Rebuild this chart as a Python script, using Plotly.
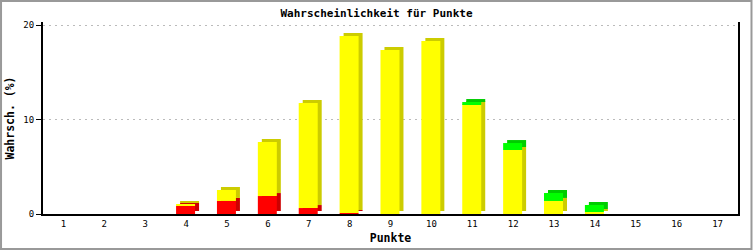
import plotly.graph_objects as go

categories = list(range(1, 18))
red_vals = [0, 0, 0, 0.85, 1.38, 1.9, 0.63, 0.1, 0, 0, 0, 0, 0, 0, 0, 0, 0]
yellow_vals = [0, 0, 0, 0.21, 1.16, 5.72, 11.12, 18.74, 17.35, 18.3, 11.64, 6.77, 1.38, 0.21, 0, 0, 0]
green_vals = [0, 0, 0, 0, 0, 0, 0, 0, 0, 0, 0.21, 0.74, 0.84, 0.74, 0, 0, 0]

W, H = 753, 250
ML, MR, MT, MB = 43, 14.5, 22, 36
plot_w = W - ML - MR
plot_h = H - MT - MB
x_range = [0.5, 17.5]
y_range = [0, 20.32]
unit_x = plot_w / (x_range[1] - x_range[0])
unit_y = plot_h / (y_range[1] - y_range[0])

bar_w = 19 / unit_x
bar_off = -0.245
dx = 4 / unit_x
dy = 3 / unit_y

series = [
    ("rot", red_vals, "#FF0000", "#CC0000"),
    ("gelb", yellow_vals, "#FFFF00", "#CCCC00"),
    ("grün", green_vals, "#00FF00", "#00CC00"),
]

fig = go.Figure()
cum = [0.0] * len(categories)
bases = []
for name, vals, c, dc in series:
    bases.append(list(cum))
    cum = [a + b for a, b in zip(cum, vals)]

# shadow (3D side/top) traces
for (name, vals, c, dc), base in zip(series, bases):
    fig.add_trace(go.Bar(
        x=categories, y=vals, base=[b + dy for b in base],
        width=bar_w, offset=bar_off + dx,
        marker=dict(color=dc, line=dict(width=0)),
        showlegend=False, hoverinfo="skip"))
# front faces
for (name, vals, c, dc), base in zip(series, bases):
    fig.add_trace(go.Bar(
        x=categories, y=vals, base=base,
        width=bar_w, offset=bar_off,
        marker=dict(color=c, line=dict(width=0)),
        name=name, showlegend=False))

fig.update_layout(
    width=W, height=H,
    margin=dict(l=ML, r=MR, t=MT, b=MB, pad=0, autoexpand=False),
    barmode="overlay",
    paper_bgcolor="white", plot_bgcolor="white",
    title=dict(text="<b>Wahrscheinlichkeit für Punkte</b>", x=0.5, xanchor="center",
               y=1 - 13 / H, yanchor="middle",
               font=dict(family="DejaVu Sans Mono", size=11, color="black")),
    font=dict(family="DejaVu Sans Mono", color="black"),
    xaxis=dict(range=x_range, tickmode="array", tickvals=categories,
               ticktext=[str(c) for c in categories], automargin=False,
               showgrid=False, zeroline=False, showline=True, linecolor="black",
               linewidth=2, ticks="", tickfont=dict(size=9),
               title=dict(text="<b>Punkte</b>", font=dict(size=11.5), standoff=6)),
    yaxis=dict(range=y_range, tickmode="array", tickvals=[0, 10, 20], automargin=False,
               showgrid=True, gridcolor="#BBBBBB", griddash="2px,4px", gridwidth=1,
               zeroline=False, showline=True, linecolor="black", linewidth=2,
               mirror=True, ticks="outside", ticklen=5, tickcolor="black", tickwidth=1,
               tickfont=dict(size=9),
               title=dict(text="<b>Wahrsch. (%)</b>", font=dict(size=11.5), standoff=6)),
    shapes=[dict(type="rect", xref="paper", yref="paper",
                 x0=-(ML - 1) / plot_w, x1=1 + (MR - 1) / plot_w,
                 y0=-(MB - 1) / plot_h, y1=1 + (MT - 1) / plot_h,
                 line=dict(color="#999999", width=2), layer="above")],
)

fig.write_html("out.html")
